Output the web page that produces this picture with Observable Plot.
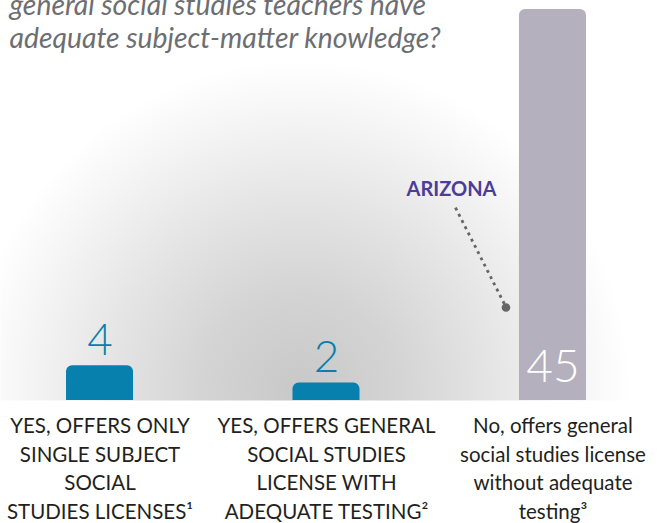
<!DOCTYPE html>
<html><head><meta charset="utf-8">
<script src="https://cdn.jsdelivr.net/npm/d3@7"></script>
<script src="https://cdn.jsdelivr.net/npm/@observablehq/plot@0.6"></script>
<style>
html,body{margin:0;padding:0;background:#fff;}
#chart{width:670px;height:523px;overflow:hidden;}
</style></head><body><div id="chart"></div>
<script>
// ---- data ----
const titleLines = ["general social studies teachers have", "adequate subject-matter knowledge?"];
const categories = [
  "YES, OFFERS ONLY\nSINGLE SUBJECT\nSOCIAL\nSTUDIES LICENSES¹",
  "YES, OFFERS GENERAL\nSOCIAL STUDIES\nLICENSE WITH\nADEQUATE TESTING²",
  "No, offers general\nsocial studies license\nwithout adequate\ntesting³"
];
const values = [4, 2, 45];
const barColors = ["#0780ad", "#0780ad", "#b5b0bd"];
const annotationLabel = "ARIZONA";
const annotationCategory = categories[2];

const rows = categories.map((c, i) => ({category: c, value: values[i], color: barColors[i]}));

const xOptions = {type: "band", domain: categories, range: [66, 586], paddingInner: 0.704, paddingOuter: 0, round: false};
const xs = Plot.scale({x: xOptions});
const anchorX = xs.apply(annotationCategory);

const chart = Plot.plot({
  width: 670, height: 523,
  marginTop: 9, marginBottom: 123, marginLeft: 0, marginRight: 0,
  x: {...xOptions, axis: null},
  y: {domain: [0, 45], axis: null},
  color: {type: "identity"},
  style: {fontFamily: "Lato, sans-serif", background: "transparent", overflow: "visible"},
  marks: [
    Plot.frame({fill: "url(#bgGlow)", stroke: "none"}),
    Plot.barY(rows, {x: "category", y: "value", fill: "color", rx: 6, insetBottom: -12, clip: true}),
    // value labels above short bars
    Plot.text(rows, {filter: d => d.value < 20, x: "category", y: "value", text: d => String(d.value),
      fill: "color", fontSize: 44, fontWeight: 300, lineAnchor: "bottom", dy: -11}),
    // value label inside tall bar
    Plot.text(rows, {filter: d => d.value >= 20, x: "category", y: 0, text: d => String(d.value),
      fill: "white", fontSize: 46, fontWeight: 300, lineAnchor: "bottom", dy: -19}),
    // category labels
    Plot.text(rows, {x: "category", y: 0, text: "category", lineAnchor: "top", dy: 12,
      fontSize: 20.5, lineHeight: 1.4, fill: "#231f20"}),
    // title
    Plot.text([titleLines.join("\n")], {frameAnchor: "top-left", textAnchor: "start", lineAnchor: "top",
      dx: 9, dy: -18, fontSize: 28.3, fontStyle: "italic", lineHeight: 1.166, fill: "#6d6e71"}),
    // annotation
    Plot.link([annotationLabel], {
      x1: {value: () => anchorX - 97.5, scale: null}, y1: () => 22.2,
      x2: {value: () => anchorX - 46.8, scale: null}, y2: () => 10.7,
      stroke: "#666", strokeWidth: 2.8, strokeDasharray: "3,4"}),
    Plot.dot([annotationLabel], {x: () => annotationCategory, y: () => 10.7, dx: -47, r: 4.3, fill: "#666", stroke: "none"}),
    Plot.text([annotationLabel], {x: () => annotationCategory, y: () => 23.5, dx: -101.5, text: d => d,
      lineAnchor: "bottom", fontSize: 20, fontWeight: "bold", fill: "#4b3d98"})
  ]
});

d3.select(chart).insert("defs", ":first-child").html(`
  <radialGradient id="bgGlow" gradientUnits="userSpaceOnUse" cx="300" cy="390" r="330">
    <stop offset="0" stop-color="#c8c8c8"/>
    <stop offset="0.3" stop-color="#d4d4d4"/>
    <stop offset="0.6" stop-color="#e6e6e6"/>
    <stop offset="0.85" stop-color="#f6f6f6"/>
    <stop offset="1" stop-color="#ffffff"/>
  </radialGradient>`);

document.getElementById("chart").appendChild(chart);
</script></body></html>
